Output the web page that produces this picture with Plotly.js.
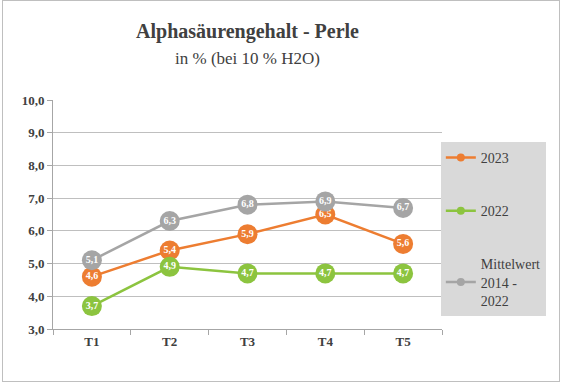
<!DOCTYPE html>
<html>
<head>
<meta charset="utf-8">
<script src="https://cdn.plot.ly/plotly-3.0.1.min.js"></script>
<style>
html,body{margin:0;padding:0;background:#fff;}
#wrap{position:relative;width:562px;height:383px;}
#chart{width:562px;height:383px;}
#frame{position:absolute;left:2px;top:0px;width:556px;height:380px;border:1px solid #bfbfbf;pointer-events:none;}
#chart svg text{font-family:'Liberation Serif' !important;}
</style>
</head>
<body>
<div id="wrap"><div id="chart"></div><div id="frame"></div></div>
<script>
const categories = ['T1', 'T2', 'T3', 'T4', 'T5'];
const values2023 = [4.6, 5.4, 5.9, 6.5, 5.6];
const values2022 = [3.7, 4.9, 4.7, 4.7, 4.7];
const valuesMittel = [5.1, 6.3, 6.8, 6.9, 6.7];
const seriesNames = ['2023', '2022', 'Mittelwert<br>2014 -<br>2022'];
const seriesColors = ['#ED7D31', '#8CC43F', '#A5A5A5'];
const yTicks = [3, 4, 5, 6, 7, 8, 9, 10];

const fmt = v => v.toFixed(1).replace('.', ',');
const FONT = 'Liberation Serif';

function mk(vals, color) {
  return {
    type: 'scatter', mode: 'lines+markers+text',
    x: categories, y: vals, showlegend: false,
    text: vals.map(v => '<b>' + fmt(v) + '</b>'), textposition: 'middle center',
    textfont: {family: FONT, size: 10, color: '#ffffff'},
    line: {color: color, width: 2.5},
    marker: {color: color, size: 20},
    cliponaxis: false,
    hoverinfo: 'skip'
  };
}
function legendEntry(name, color, group) {
  return {
    type: 'scatter', mode: 'lines+markers',
    x: [categories[0]], y: [null], name: name, legendgroup: group,
    line: {color: color, width: 2.5},
    marker: {color: color, size: 8},
    hoverinfo: 'skip'
  };
}

const data = [
  mk(values2023, seriesColors[0]),
  mk(values2022, seriesColors[1]),
  mk(valuesMittel, seriesColors[2]),
  legendEntry(seriesNames[0], seriesColors[0], 'a'),
  legendEntry(seriesNames[1], seriesColors[1], 'b'),
  legendEntry(seriesNames[2], seriesColors[2], 'c')
];

const layout = {
  width: 562, height: 383,
  margin: {l: 53, r: 120, t: 100, b: 54, autoexpand: false},
  paper_bgcolor: '#ffffff', plot_bgcolor: '#ffffff',
  separators: ',.',
  font: {family: FONT, color: '#404040'},
  title: {
    text: '<b>Alphasäurengehalt - Perle</b><br><span style="font-size:17px">in % (bei 10 % H2O)</span>',
    font: {family: FONT, size: 20, color: '#404040'},
    x: 0.5, xref: 'paper', y: 0.9, yref: 'container', yanchor: 'middle'
  },
  xaxis: {
    type: 'category', range: [-0.5, 4.5],
    tickvals: categories, ticktext: categories.map(c => '<b>' + c + '</b>'),
    showline: true, linecolor: '#a6a6a6', linewidth: 1,
    ticks: 'outside', tickson: 'boundaries', ticklen: 5, tickcolor: '#a6a6a6',
    showgrid: false, zeroline: false,
    tickfont: {family: FONT, size: 13, color: '#404040'}
  },
  yaxis: {
    range: [3, 10], tickvals: yTicks, ticktext: yTicks.map(v => '<b>' + fmt(v) + '</b>'),
    showline: true, linecolor: '#a6a6a6', linewidth: 1,
    ticks: 'outside', ticklen: 5, tickcolor: '#a6a6a6',
    showgrid: true, gridcolor: '#bfbfbf', gridwidth: 1, zeroline: false,
    tickfont: {family: FONT, size: 13, color: '#404040'}
  },
  showlegend: true,
  legend: {
    x: 0.997, xanchor: 'left', y: 0.817, yanchor: 'top',
    bgcolor: '#d9d9d9', traceorder: 'grouped', tracegroupgap: 32,
    font: {family: FONT, size: 14, color: '#404040'},
    itemwidth: 30
  }
};

Plotly.newPlot('chart', data, layout, {displayModeBar: false, staticPlot: true});
</script>
</body>
</html>
